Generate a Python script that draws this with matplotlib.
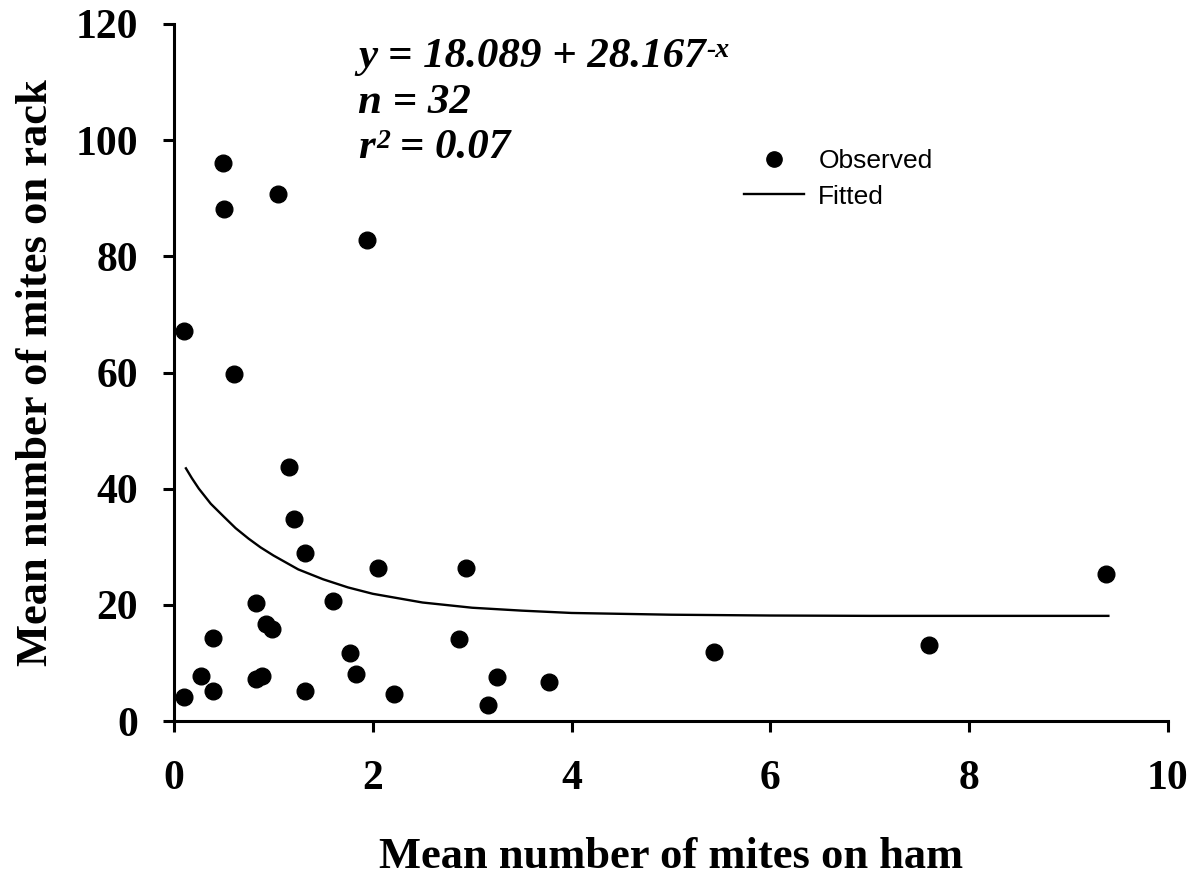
import matplotlib
matplotlib.use("Agg")
import matplotlib.pyplot as plt
from matplotlib.lines import Line2D

# observed points
ham = [0.10, 0.27, 0.39, 0.39, 0.82, 0.93, 0.99, 0.82, 0.89, 1.32,
       1.32, 1.60, 1.77, 1.83, 2.05, 2.21, 2.94, 2.87, 3.16, 3.25,
       9.38, 7.60, 0.49, 0.50, 1.05, 1.94, 0.10, 0.60, 1.16, 1.21,
       3.77, 5.43]
rack = [4.2, 7.7, 14.3, 5.2, 20.3, 16.7, 15.8, 7.2, 7.7, 29.0,
        5.1, 20.7, 11.7, 8.1, 26.3, 4.6, 26.3, 14.2, 2.8, 7.6,
        25.3, 13.1, 96.1, 88.1, 90.7, 82.8, 67.2, 59.7, 43.8, 34.8,
        6.8, 11.8]

# fitted curve
fit_x = [0.12, 0.18, 0.25, 0.37, 0.5, 0.62, 0.75, 0.87, 1.0, 1.25,
         1.5, 1.75, 2.0, 2.5, 3.0, 3.5, 4.0, 5.0, 6.0, 7.0, 8.0, 9.4]
fit_y = [43.5, 41.8, 40.0, 37.4, 35.2, 33.2, 31.4, 29.9, 28.5, 26.1,
         24.4, 23.0, 21.9, 20.4, 19.5, 19.0, 18.6, 18.3, 18.16, 18.1,
         18.1, 18.1]

xticks = [0, 2, 4, 6, 8, 10]
yticks = [0, 20, 40, 60, 80, 100, 120]

plt.rcParams['font.family'] = ['Liberation Serif', 'DejaVu Serif']

fig = plt.figure(figsize=(11.98, 8.76), dpi=100)
ax = fig.add_axes([174/1198, 1 - 721/876, (1168 - 174)/1198, (721 - 24)/876])

ax.plot(fit_x, fit_y, color='black', lw=1.7, zorder=2)
ax.plot(ham, rack, 'o', color='black', ms=12, zorder=3)

ax.set_xlim(0, 10)
ax.set_ylim(0, 120)
ax.set_xticks(xticks)
ax.set_yticks(yticks)
for s in ['top', 'right']:
    ax.spines[s].set_visible(False)
for s in ['left', 'bottom']:
    ax.spines[s].set_linewidth(2.2)
ax.tick_params(axis='both', direction='out', length=8, width=2.2,
               labelsize=30)
ax.tick_params(axis='y', pad=18)
ax.tick_params(axis='x', pad=20)
for lab in ax.get_xticklabels() + ax.get_yticklabels():
    lab.set_fontweight('bold')

ax.set_xlabel('Mean number of mites on ham', fontsize=32, fontweight='bold',
              labelpad=28)
ax.set_ylabel('Mean number of mites on rack', fontsize=32, fontweight='bold',
              labelpad=14)

# equation block
eq = dict(fontsize=31, fontweight='bold', fontstyle='italic', va='center',
          ha='left', transform=ax.transAxes)
sup = dict(fontsize=20, fontweight='bold', fontstyle='italic', va='top',
           ha='left', xytext=(1, 0), textcoords='offset points')
t1 = ax.text(0.185, 0.952, 'y = 18.089 + 28.167', **eq)
ax.annotate('-x', xy=(1, 1), xycoords=t1, **sup)
ax.text(0.185, 0.887, 'n = 32', **eq)
t3 = ax.text(0.185, 0.822, 'r', **eq)
ax.annotate('2', xy=(1, 1), xycoords=t3, **sup)
ax.annotate(' = 0.07', xy=(1, 0.5), xycoords=t3, xytext=(10, 0),
            textcoords='offset points', fontsize=31, fontweight='bold',
            fontstyle='italic', va='center', ha='left')

handles = [Line2D([], [], marker='o', color='black', ls='none', ms=11),
           Line2D([], [], color='black', lw=1.7)]
ax.legend(handles, ['Observed', 'Fitted'], loc='upper left',
          bbox_to_anchor=(0.55, 0.855), frameon=False,
          prop={'family': 'Liberation Sans', 'size': 19},
          handlelength=2.25, labelspacing=0.45, handletextpad=0.55)

fig.savefig('out.png', dpi=100, facecolor='white')
